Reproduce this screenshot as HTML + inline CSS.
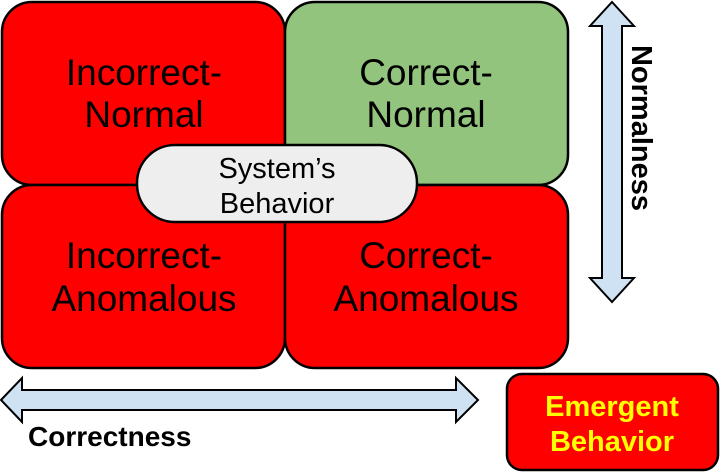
<!DOCTYPE html>
<html><head><style>
html,body{margin:0;padding:0;background:#fff;}
svg{display:block;}
text{font-family:"Liberation Sans",Arial,sans-serif;}
</style></head><body>
<svg width="720" height="474" viewBox="0 0 720 474" xmlns="http://www.w3.org/2000/svg">
<g stroke="#000" stroke-width="2.5">
<rect x="2" y="2" width="283" height="183" rx="30" fill="#ff0000"/>
<rect x="285" y="2" width="283" height="183" rx="30" fill="#93c47d"/>
<rect x="2" y="185" width="283" height="183" rx="30" fill="#ff0000"/>
<rect x="285" y="185" width="283" height="183" rx="30" fill="#ff0000"/>
<rect x="137" y="145" width="280" height="77" rx="38" fill="#eeeeee"/>
<rect x="507" y="374" width="211" height="96" rx="15" fill="#ff0000"/>
<polygon fill="#cfe2f3" stroke-width="2" points="612,2 634,26 622,26 622,278 634,278 612,302 590,278 602,278 602,26 590,26"/>
<polygon fill="#cfe2f3" stroke-width="2" points="1,400 22,378 22,390 456,390 456,378 478,400 456,422 456,410 22,410 22,422"/>
</g>
<g font-size="37" text-anchor="middle" fill="#000">
<text x="144" y="85">Incorrect-</text>
<text x="144" y="127">Normal</text>
<text x="426" y="85">Correct-</text>
<text x="426" y="127">Normal</text>
<text x="144" y="268">Incorrect-</text>
<text x="144" y="311">Anomalous</text>
<text x="426" y="268">Correct-</text>
<text x="426" y="311">Anomalous</text>
</g>
<g font-size="29" text-anchor="middle" fill="#000">
<text x="277" y="178">System’s</text>
<text x="277" y="213">Behavior</text>
</g>
<text x="28" y="446" font-size="28" font-weight="bold" fill="#000">Correctness</text>
<text x="632" y="128" font-size="29" font-weight="bold" fill="#000" text-anchor="middle" transform="rotate(90 632 128)">Normalness</text>
<g font-size="29" font-weight="bold" fill="#ffff00" text-anchor="middle">
<text x="612" y="416">Emergent</text>
<text x="612" y="451">Behavior</text>
</g>
</svg>
</body></html>
